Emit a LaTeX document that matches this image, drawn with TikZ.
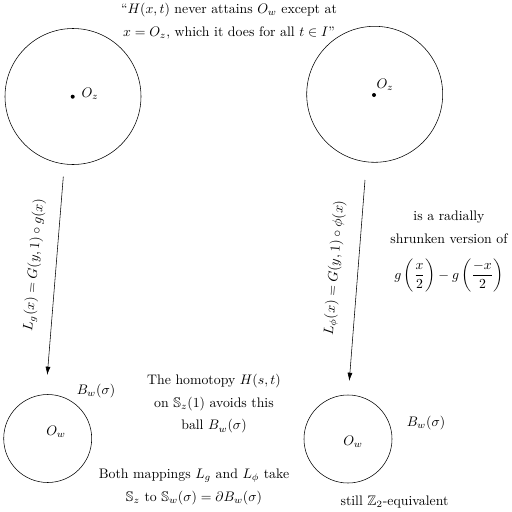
\documentclass[tikz,border=0pt]{standalone}
\usepackage{amsmath,amssymb}
\usetikzlibrary{arrows.meta}
\begin{document}
\begin{tikzpicture}[x=0.725pt,y=-0.725pt,
  bigcirc/.style={draw,circle,inner sep=0pt,minimum size=98.6pt},
  smallcirc/.style={draw,circle,inner sep=0pt,minimum size=63.8pt},
  dotnode/.style={fill,circle,inner sep=0pt,minimum size=2.9pt},
  txt/.style={align=center,inner sep=0pt},
  mapArrow/.style={-{Latex[length=6pt,width=3.6pt]}},
  arrowlabel/.style={inner sep=0pt}]
\useasboundingbox (0,0) rectangle (512,512);
% circles
\node[bigcirc] (c1) at (73,96.5) {};
\node[bigcirc] (c2) at (374.7,94.3) {};
\node[smallcirc] (c3) at (47.7,438.5) {};
\node[smallcirc] (c4) at (348,439) {};
% centres
\node[dotnode] (d1) at (72.7,96.7) {};
\node[dotnode] (d2) at (374,95) {};
\node (oz1) at (90,94) {$O_z$};
\node (oz2) at (385,85) {$O_z$};
\node (ow1) at (56,432) {$O_w$};
\node (ow2) at (353,442) {$O_w$};
\node (bw1) at (96,391) {$B_w(\sigma)$};
\node (bw2) at (426,423) {$B_w(\sigma)$};
% arrows
\coordinate (a1s) at (63.3,176.7);
\coordinate (a1e) at (47.3,375);
\coordinate (a2s) at (365,180);
\coordinate (a2e) at (349.3,381);
\draw[mapArrow] (a1s) -- (a1e);
\draw[mapArrow] (a2s) -- (a2e);
\node[arrowlabel,rotate=85.3] (l1) at (34.5,265) {$L_g(x) = G(y,1)\circ g(x)$};
\node[arrowlabel,rotate=85.5] (l2) at (335,268) {$L_\phi(x) = G(y,1)\circ \phi(x)$};
% texts
\node[txt] (top) at (229,21) {``$H(x,t)$ never attains $O_w$ except at\\[4.7pt] $x=O_z$, which it does for all $t\in I$''};
\node[txt] (rad) at (449,251.5) {is a radially\\[4.5pt] shrunken version of\\[10.5pt] $g\,\biggl(\dfrac{x}{2}\biggr)-g\,\biggl(\dfrac{-x}{2}\biggr)$};
\node[txt] (hom) at (214,404) {The homotopy $H(s,t)$\\[4.3pt] on $\mathbb{S}_z(1)$ avoids this\\[4.3pt] ball $B_w(\sigma)$};
\node[txt] (both) at (194,486.5) {Both mappings $L_g$ and $L_\phi$ take\\[4.7pt] $\mathbb{S}_z$ to $\mathbb{S}_w(\sigma)=\partial B_w(\sigma)$};
\node[txt] (still) at (394.5,502) {still $\mathbb{Z}_2$-equivalent};
\end{tikzpicture}
\end{document}
